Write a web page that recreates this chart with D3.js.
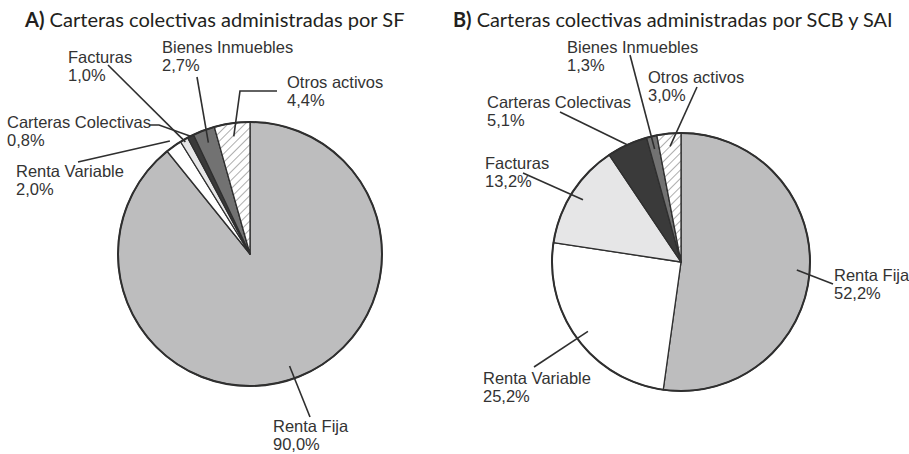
<!DOCTYPE html>
<html><head><meta charset="utf-8">
<script src="https://cdn.jsdelivr.net/npm/d3@7"></script>
<style>
body{margin:0;background:#fff;}
svg{display:block;}
</style></head>
<body>
<svg id="chart" width="909" height="454"></svg>
<script>
// ---- data ----
const categories = ["Renta Fija","Renta Variable","Facturas","Carteras Colectivas","Bienes Inmuebles","Otros activos"];
const valuesSF  = [90.0, 2.0, 1.0, 0.8, 2.7, 4.4];
const valuesSCB = [52.2, 25.2, 13.2, 5.1, 1.3, 3.0];
const titleLetters = ["A)", "B)"];
const titleTexts = ["Carteras colectivas administradas por SF", "Carteras colectivas administradas por SCB y SAI"];

// ---- styling / layout ----
const fills = ["#bdbdbe", "#ffffff", "#e6e6e7", "#3a3a3a", "#727272", "url(#hatch)"];
const fmt = d3.formatLocale({decimal: ",", thousands: ".", grouping: [3], currency: ["", ""]}).format(".1f");

const svg = d3.select("#chart");
const defs = svg.append("defs");
const pat = defs.append("pattern").attr("id", "hatch").attr("patternUnits", "userSpaceOnUse")
  .attr("width", 6).attr("height", 6).attr("patternTransform", "rotate(45)");
pat.append("rect").attr("width", 6).attr("height", 6).attr("fill", "#fff");
pat.append("line").attr("x1", 0).attr("y1", 0).attr("x2", 0).attr("y2", 6)
  .attr("stroke", "#6a6a6a").attr("stroke-width", 1.1);

const charts = [
  {
    values: valuesSF, cx: 250, cy: 254, r: 132,
    titleX: 25, titleW: 380,
    labels: [
      {tx: 273, ty: 432, pts: [[310, 417]], rf: 0.9},
      {tx: 16, ty: 177, pts: [[78, 162]], rf: 1.05},
      {tx: 68, ty: 63, pts: [[108, 65]], rf: 0.98},
      {tx: 7, ty: 128, pts: [[149, 125], [159, 125]], rf: 1.0},
      {tx: 162, ty: 53, pts: [[197, 77]], rf: 0.9},
      {tx: 287, ty: 88, pts: [[277, 91], [240, 91]], rf: 0.9}
    ]
  },
  {
    values: valuesSCB, cx: 681, cy: 262, r: 129,
    titleX: 453, titleW: 440,
    labels: [
      {tx: 834, ty: 281, pts: [[833, 284]], rf: 0.9},
      {tx: 483, ty: 384, pts: [[534, 367]], rf: 0.9},
      {tx: 485, ty: 169, pts: [[523, 173]], rf: 0.9},
      {tx: 487, ty: 108, pts: [[560, 112]], rf: 1.0},
      {tx: 567, ty: 53, pts: [[630, 55]], rf: 0.9},
      {tx: 648, ty: 83, pts: [[697, 87]], rf: 0.9}
    ]
  }
];

const pie = d3.pie().sort(null).value(d => d);

charts.forEach((c, ci) => {
  const g = svg.append("g");
  const t = g.append("text").attr("x", c.titleX).attr("y", 27)
    .attr("font-family", "Lato, 'Open Sans', sans-serif").attr("font-size", 20)
    .attr("fill", "#231f20");
  t.append("tspan").attr("font-weight", "bold").text(titleLetters[ci]);
  t.append("tspan").text(" " + titleTexts[ci]);
  const w = t.node().getComputedTextLength();
  t.attr("font-size", 20 * c.titleW / w);

  const arcs = pie(c.values);
  const arc = d3.arc().innerRadius(0).outerRadius(c.r);
  const pg = g.append("g").attr("transform", `translate(${c.cx},${c.cy})`);
  pg.selectAll("path.slice").data(arcs).join("path")
    .attr("class", "slice")
    .attr("d", arc)
    .attr("fill", (d, i) => fills[i])
    .attr("stroke", "#2f2f2f").attr("stroke-width", 1.3).attr("stroke-linejoin", "round");
  pg.append("circle").attr("r", c.r).attr("fill", "none").attr("stroke", "#2f2f2f").attr("stroke-width", 2);

  arcs.forEach((d, i) => {
    const L = c.labels[i];
    const mid = (d.startAngle + d.endAngle) / 2;
    const rr = c.r * L.rf;
    const inner = [c.cx + rr * Math.sin(mid), c.cy - rr * Math.cos(mid)];
    const pts = L.pts.concat([inner]);
    g.append("path").attr("d", d3.line()(pts)).attr("fill", "none")
      .attr("stroke", "#2f2f2f").attr("stroke-width", 1.6);
    const lt = g.append("text").attr("font-family", "'Liberation Sans', Arial, sans-serif")
      .attr("font-size", 16.5).attr("fill", "#333");
    lt.append("tspan").attr("x", L.tx).attr("y", L.ty).text(categories[i]);
    lt.append("tspan").attr("x", L.tx).attr("y", L.ty + 18).text(fmt(c.values[i]) + "%");
  });
});
</script>
</body></html>
